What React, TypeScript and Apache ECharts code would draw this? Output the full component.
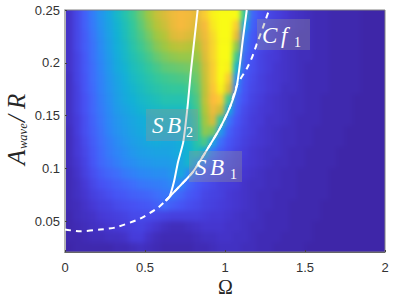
import React, { useEffect, useRef } from "react";
import * as echarts from "echarts";

// Heat surface, percent of colour scale. Rows run from A/R = 0.245 (top) to 0.025; columns from Omega = 0.025 to 1.975.
const omegaCells = ["0.025","0.075","0.125","0.175","0.225","0.275","0.325","0.375","0.425","0.475","0.525","0.575","0.625","0.675","0.725","0.775","0.825","0.875","0.925","0.975","1.025","1.075","1.125","1.175","1.225","1.275","1.325","1.375","1.425","1.475","1.525","1.575","1.625","1.675","1.725","1.775","1.825","1.875","1.925","1.975"];
const amplitudeCells = ["0.245","0.235","0.225","0.215","0.205","0.195","0.185","0.175","0.165","0.155","0.145","0.135","0.125","0.115","0.105","0.095","0.085","0.075","0.065","0.055","0.045","0.035","0.025"];
const heatValues = [
  [5,11,18,26,33,39,46,52,58,64,70,75,78,82,84,83,80,90,98,100,100,100,55,20,14,11,9,7,5,4,3,2,2,1,1,1,1,0,0,0],
  [5,11,18,25,32,38,44,50,56,62,68,73,76,81,84,82,78,84,96,100,100,90,40,18,13,10,8,6,5,4,3,2,2,1,1,1,1,0,0,0],
  [5,11,17,24,31,37,43,49,55,60,65,70,73,78,80,78,76,82,93,100,100,80,28,16,12,9,7,6,4,3,3,2,2,1,1,1,1,0,0,0],
  [5,11,17,23,30,36,42,47,53,58,62,67,70,73,74,73,72,80,92,100,100,68,24,15,11,9,7,5,4,3,3,2,2,1,1,1,1,0,0,0],
  [5,10,16,23,29,35,41,46,51,55,59,63,66,68,69,69,69,78,92,100,100,58,20,14,10,8,7,5,4,3,3,2,2,1,1,1,1,0,0,0],
  [5,10,16,22,28,34,40,44,49,52,56,59,62,63,64,65,66,76,90,100,98,45,18,13,10,8,6,5,4,3,2,2,2,1,1,1,1,0,0,0],
  [4,10,15,22,27,33,38,42,47,50,53,56,58,59,60,61,64,75,90,100,90,32,16,12,9,7,6,5,4,3,2,2,2,1,1,1,1,0,0,0],
  [4,9,15,21,27,32,37,41,45,48,51,53,55,56,56,58,62,74,88,98,78,26,15,11,9,7,6,4,4,3,2,2,2,1,1,1,1,0,0,0],
  [4,9,14,20,26,31,36,40,43,46,48,50,52,52,52,54,60,74,86,90,58,21,14,10,8,6,5,4,3,3,2,2,1,1,1,1,0,0,0,0],
  [4,9,14,20,25,30,35,38,41,44,46,47,48,48,48,51,58,72,82,76,40,18,12,9,7,6,5,4,3,3,2,2,1,1,1,1,0,0,0,0],
  [4,8,13,19,24,29,33,36,39,41,43,45,45,45,45,48,56,70,78,55,24,15,11,8,7,5,5,4,3,2,2,2,1,1,1,1,0,0,0,0],
  [3,8,13,18,23,28,32,35,38,40,42,43,43,42,43,46,54,68,66,34,18,13,10,8,6,5,4,3,3,2,2,1,1,1,1,0,0,0,0,0],
  [3,7,12,17,22,26,30,33,36,38,40,41,40,40,42,45,53,60,38,22,15,12,9,7,6,5,4,3,3,2,2,1,1,1,1,0,0,0,0,0],
  [3,7,11,16,21,25,28,31,34,36,37,38,38,39,41,44,50,40,24,17,13,10,8,6,5,4,4,3,2,2,1,1,1,1,0,0,0,0,0,0],
  [3,6,10,15,20,23,26,29,31,33,34,35,35,36,39,45,36,24,18,14,11,9,7,6,5,4,3,3,2,2,1,1,1,1,0,0,0,0,0,0],
  [2,5,9,13,17,20,22,25,27,29,30,31,31,34,40,30,20,16,13,11,9,7,6,5,4,3,3,2,2,1,1,1,1,0,0,0,0,0,0,0],
  [2,4,7,11,14,16,18,20,22,24,25,26,27,30,28,20,16,13,11,9,8,7,5,4,4,3,3,2,2,1,1,1,1,0,0,0,0,0,0,0],
  [2,4,6,9,11,13,15,16,18,19,20,22,24,24,20,16,14,11,10,9,7,6,5,4,3,3,2,2,2,1,1,1,1,0,0,0,0,0,0,0],
  [2,3,5,7,9,10,12,13,14,15,16,18,21,17,15,13,12,10,9,8,7,6,5,4,3,3,2,2,1,1,1,1,0,0,0,0,0,0,0,0],
  [1,3,4,5,7,8,9,10,12,12,12,11,10,9,9,9,9,8,7,7,6,5,4,4,3,2,2,2,1,1,1,1,0,0,0,0,0,0,0,0],
  [1,2,3,4,5,6,7,8,9,10,8,6,4,3,3,4,5,6,6,6,5,5,4,3,3,2,2,2,1,1,1,0,0,0,0,0,0,0,0,0],
  [1,1,2,3,3,4,4,5,8,8,5,3,2,2,2,2,3,4,4,5,5,4,4,3,2,2,2,1,1,1,1,0,0,0,0,0,0,0,0,0],
  [0,1,1,1,1,1,2,2,3,4,3,2,1,1,1,1,2,2,3,4,4,4,3,3,2,2,1,1,1,1,0,0,0,0,0,0,0,0,0,0],
];
const parulaStops = ["#3e26a8","#4639d6","#4752f4","#3f6cfb","#2d87f7","#1f9de8","#12b1d6","#1fbfb8","#37c897","#6fc96a","#abc739","#dfbb3a","#feba3e","#f8d92c","#f9fb15"];

const sb2Curve = [[0.829,0.25],[0.786,0.191],[0.767,0.16],[0.739,0.125],[0.706,0.106],[0.681,0.0874],[0.653,0.0733],[0.629,0.0695]];
const sb1Curve = [[0.629,0.0695],[0.7375,0.0865],[0.8,0.0968],[0.906,0.1223],[0.969,0.1383],[1.031,0.158],[1.075,0.179],[1.1125,0.2231],[1.136,0.25]];
const cf1Curve = [[0,0.0422],[0.094,0.0406],[0.219,0.0422],[0.3125,0.0441],[0.469,0.0525],[0.581,0.0629],[0.629,0.0695],[0.7375,0.0865],[0.8,0.0968],[0.906,0.1223],[0.969,0.1383],[1.031,0.158],[1.075,0.179],[1.1375,0.1949],[1.169,0.2052],[1.2,0.2184],[1.2375,0.2335],[1.275,0.25]];

const omegaTicks = [0, 0.5, 1, 1.5, 2];
const amplitudeTicks = [0.05, 0.1, 0.15, 0.2, 0.25];

const PLOT = { left: 65, top: 10, width: 320, height: 242 };
const CELL_W = 8;
const CELL_H = 10.61;
const SERIF = '"Liberation Serif"';

function paddedHeat() {
  const rows = [heatValues[0], ...heatValues, heatValues[heatValues.length - 1]];
  const out: number[][] = [];
  rows.forEach((row, r) => {
    const wide = [row[0], ...row, row[row.length - 1]];
    wide.forEach((v, c) => out.push([c, r, v]));
  });
  return out;
}

function glyph(text: string, x: number, y: number, size: number, fill = "#fff", rotation = 0, slant = "italic ") {
  return {
    type: "text", x, y, z: 11, rotation, silent: true,
    style: { text, fill, font: `${slant}${size}px ${SERIF}`, align: "left", verticalAlign: "middle", textAlign: "left", textVerticalAlign: "middle" },
  };
}
function box(x: number, y: number, width: number, height: number) {
  return { type: "rect", z: 10, silent: true, shape: { x, y, width, height }, style: { fill: "rgba(150,150,150,0.35)" } };
}

export default function App() {
  const heatRef = useRef<HTMLDivElement>(null);
  const mainRef = useRef<HTMLDivElement>(null);
  useEffect(() => {
    const heat = echarts.init(heatRef.current!, undefined, { renderer: "svg" });
    const main = echarts.init(mainRef.current!, undefined, { renderer: "svg" });
    const cats = (n: number) => Array.from({ length: n }, (_, i) => String(i));
    heat.setOption({
      animation: false,
      backgroundColor: "#3e26a8",
      grid: { left: 0, right: 0, top: 0, bottom: 0 },
      xAxis: { type: "category", data: cats(omegaCells.length + 2), show: false },
      yAxis: { type: "category", data: cats(amplitudeCells.length + 2), inverse: true, show: false },
      visualMap: { show: false, min: 0, max: 100, dimension: 2, inRange: { color: parulaStops } },
      series: [{ type: "heatmap", data: paddedHeat(), progressive: 0, itemStyle: { borderWidth: 0 } }],
    });
    main.setOption({
      animation: false,
      textStyle: { fontFamily: '"Liberation Sans"' },
      grid: { show: true, left: PLOT.left, top: PLOT.top, width: PLOT.width, height: PLOT.height, backgroundColor: "transparent", borderColor: "#808080", borderWidth: 1 },
      xAxis: {
        type: "value", min: 0, max: 2,
        splitLine: { show: false },
        axisLine: { show: true, onZero: false, lineStyle: { color: "#666", width: 1 } },
        axisTick: { inside: true, length: 2, customValues: omegaTicks, lineStyle: { color: "#444" } },
        axisLabel: { customValues: omegaTicks, color: "#333", fontSize: 13, margin: 9, fontFamily: '"Liberation Sans"', formatter: (v: number) => String(v) },
      },
      yAxis: {
        type: "value", min: 0.021, max: 0.25,
        splitLine: { show: false },
        axisLine: { show: true, onZero: false, lineStyle: { color: "#b4b4b4", width: 2 } },
        axisTick: { inside: true, length: 2, customValues: amplitudeTicks, lineStyle: { color: "#444" } },
        axisLabel: { customValues: amplitudeTicks, color: "#333", fontSize: 13, margin: 5, fontFamily: '"Liberation Sans"', formatter: (v: number) => String(v) },
      },
      series: [
        { name: "Cf1", type: "line", data: cf1Curve, showSymbol: false, smooth: 0.2, lineStyle: { color: "#fff", width: 2, type: [6, 5] }, z: 2 },
        { name: "SB2", type: "line", data: sb2Curve, showSymbol: false, smooth: 0.2, lineStyle: { color: "#fff", width: 2 }, z: 3 },
        { name: "SB1", type: "line", data: sb1Curve, showSymbol: false, smooth: 0.2, lineStyle: { color: "#fff", width: 2 }, z: 3 },
      ],
      graphic: [
        box(146, 109, 52, 32),
        glyph("S", 152, 125, 23),
        glyph("B", 167, 125, 23),
        glyph("2", 186, 132, 14, "#fff", 0, ""),
        box(189, 151, 53, 31),
        glyph("S", 195, 167, 23),
        glyph("B", 210, 167, 23),
        glyph("1", 230, 174, 14, "#fff", 0, ""),
        box(257, 19, 53, 31),
        glyph("C", 262, 35, 23),
        glyph("f", 281, 35, 23),
        glyph("1", 294, 42, 14, "#fff", 0, ""),
        glyph("A", 16, 165, 25, "#262626", Math.PI / 2),
        glyph("wave", 23, 149, 12.5, "#262626", Math.PI / 2),
        glyph("/", 16, 122, 25, "#262626", Math.PI / 2),
        glyph("R", 16, 109, 25, "#262626", Math.PI / 2),
        glyph("Ω", 218, 287, 20, "#262626", 0, ""),
      ],
    });
    return () => { heat.dispose(); main.dispose(); };
  }, []);
  return (
    <div style={{ position: "absolute", left: 0, top: 0, width: 395, height: 305, background: "#fff", overflow: "hidden" }}>
      <div style={{ position: "absolute", left: PLOT.left, top: PLOT.top, width: PLOT.width, height: PLOT.height, overflow: "hidden" }}>
        <div
          ref={heatRef}
          style={{
            position: "absolute", left: -CELL_W, top: -CELL_H,
            width: CELL_W * (omegaCells.length + 2), height: CELL_H * (amplitudeCells.length + 2),
            filter: "blur(2.5px)",
          }}
        />
      </div>
      <div ref={mainRef} style={{ position: "absolute", left: 0, top: 0, width: 395, height: 305 }} />
    </div>
  );
}
